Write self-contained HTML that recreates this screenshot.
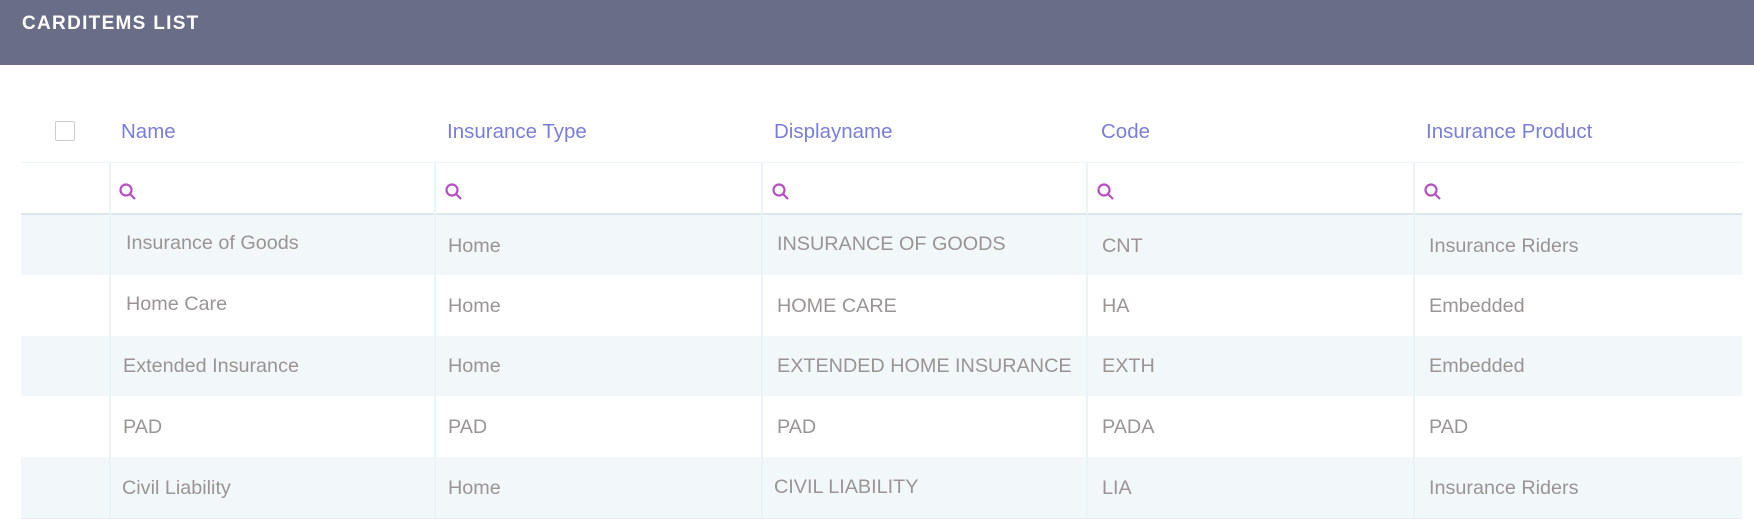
<!DOCTYPE html>
<html><head><meta charset="utf-8"><style>
body{margin:0;width:1754px;height:532px;background:#fff;font-family:"Liberation Sans",sans-serif;position:relative;overflow:hidden}
.hdr{position:absolute;left:0;top:0;width:1754px;height:65px;background:#6a6d87}
.title{position:absolute;left:22px;top:13px;color:#fff;font-weight:bold;font-size:19px;letter-spacing:1.3px}
.t{position:absolute;white-space:nowrap}
.h{color:#7a7fd0;font-size:20.5px;top:120px}
.row{position:absolute;left:21px;width:1721px}
.c{color:#9a9494;font-size:19.8px}
.vl{position:absolute;width:2px;background:#eaf4f6}
.cb{position:absolute;left:55px;top:121px;width:18px;height:18px;border:1px solid #ccc;border-radius:2px;background:#fff}
</style></head><body>
<div class="hdr"><div class="title">CARDITEMS LIST</div></div>
<div class="cb"></div>
<div class="t h" style="left:121px">Name</div>
<div class="t h" style="left:447px">Insurance Type</div>
<div class="t h" style="left:774px">Displayname</div>
<div class="t h" style="left:1101px">Code</div>
<div class="t h" style="left:1426px">Insurance Product</div>
<div class="row" style="top:162px;height:1px;background:#eef5f7"></div>
<div class="row" style="top:213px;height:2px;background:#dde6ea"></div>
<div class="row" style="top:215px;height:60px;background:#f2f7fa"></div>
<div class="row" style="top:336px;height:60px;background:#f2f7fa"></div>
<div class="row" style="top:457px;height:61px;background:#f2f7fa"></div>
<div class="row" style="top:518px;height:1px;background:#e6eef2"></div>
<div class="vl" style="left:109px;top:162px;height:356px"></div>
<div class="vl" style="left:434px;top:162px;height:356px"></div>
<div class="vl" style="left:761px;top:162px;height:356px"></div>
<div class="vl" style="left:1086px;top:162px;height:356px"></div>
<div class="vl" style="left:1413px;top:162px;height:356px"></div>
<svg style="position:absolute;left:0;top:0" width="1754" height="532">
<g fill="none" stroke="#b450c0" stroke-width="2.2">
<circle cx="126" cy="190" r="5.5"/><line x1="130" y1="194" x2="135" y2="199"/>
<circle cx="452" cy="190" r="5.5"/><line x1="456" y1="194" x2="461" y2="199"/>
<circle cx="779" cy="190" r="5.5"/><line x1="783" y1="194" x2="788" y2="199"/>
<circle cx="1104" cy="190" r="5.5"/><line x1="1108" y1="194" x2="1113" y2="199"/>
<circle cx="1431" cy="190" r="5.5"/><line x1="1435" y1="194" x2="1440" y2="199"/>
</g></svg>
<div class="t c" style="left:126px;top:232px">Insurance of Goods</div>
<div class="t c" style="left:448px;top:235px">Home</div>
<div class="t c" style="left:777px;top:233px">INSURANCE OF GOODS</div>
<div class="t c" style="left:1102px;top:235px">CNT</div>
<div class="t c" style="left:1429px;top:235px">Insurance Riders</div>
<div class="t c" style="left:126px;top:293px">Home Care</div>
<div class="t c" style="left:448px;top:295px">Home</div>
<div class="t c" style="left:777px;top:295px">HOME CARE</div>
<div class="t c" style="left:1102px;top:295px">HA</div>
<div class="t c" style="left:1429px;top:295px">Embedded</div>
<div class="t c" style="left:123px;top:355px">Extended Insurance</div>
<div class="t c" style="left:448px;top:355px">Home</div>
<div class="t c" style="left:777px;top:355px">EXTENDED HOME INSURANCE</div>
<div class="t c" style="left:1102px;top:355px">EXTH</div>
<div class="t c" style="left:1429px;top:355px">Embedded</div>
<div class="t c" style="left:123px;top:416px">PAD</div>
<div class="t c" style="left:448px;top:416px">PAD</div>
<div class="t c" style="left:777px;top:416px">PAD</div>
<div class="t c" style="left:1102px;top:416px">PADA</div>
<div class="t c" style="left:1429px;top:416px">PAD</div>
<div class="t c" style="left:122px;top:477px">Civil Liability</div>
<div class="t c" style="left:448px;top:477px">Home</div>
<div class="t c" style="left:774px;top:476px">CIVIL LIABILITY</div>
<div class="t c" style="left:1102px;top:477px">LIA</div>
<div class="t c" style="left:1429px;top:477px">Insurance Riders</div>
</body></html>
